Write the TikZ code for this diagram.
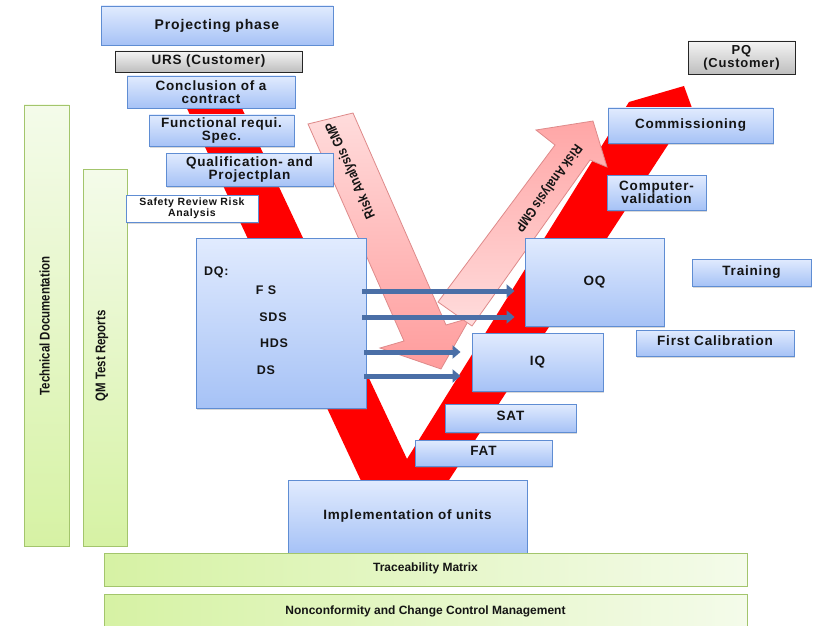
\documentclass[tikz,border=0pt]{standalone}
\usepackage{fontspec}
\setmainfont{Liberation Sans}
\newfontfamily\narrowfont{Liberation Sans}[FakeStretch=0.82]
\newfontfamily\boxfont{Liberation Sans}[LetterSpace=6]
\usetikzlibrary{shadows,arrows.meta,calc}
\definecolor{bluetop}{HTML}{E1EBFE}
\definecolor{bluebot}{HTML}{A6C2F6}
\definecolor{blueborder}{HTML}{5F8DD3}
\definecolor{graytop}{HTML}{F4F4F4}
\definecolor{graybot}{HTML}{BEBEBE}
\definecolor{greenborder}{HTML}{A3C56C}
\definecolor{greendark}{HTML}{D6F2A4}
\definecolor{greenlight}{HTML}{F4FBEA}
\definecolor{vred}{HTML}{FF0000}
\definecolor{pinkdark}{HTML}{FF9C9C}
\definecolor{pinklight}{HTML}{FFDCDC}
\definecolor{pinkborder}{HTML}{DE8A8A}
\definecolor{arrowblue}{HTML}{4A6FA7}
\definecolor{textdark}{HTML}{141414}
\begin{document}
\begin{tikzpicture}[x=1pt,y=-1pt,
 bluebox/.style={draw=blueborder,line width=0.9pt,top color=bluetop,bottom color=bluebot,
   inner sep=0pt,align=center,text=textdark,font=\boxfont\fontsize{13.5}{13.5}\selectfont\bfseries,
   drop shadow={shadow xshift=1.2pt,shadow yshift=-1.5pt,opacity=0.3}},
 graybox/.style={bluebox,draw=black!85,top color=graytop,bottom color=graybot},
 whitebox/.style={bluebox,top color=white,bottom color=white,font=\boxfont\fontsize{10.5}{10.5}\selectfont\bfseries},
 greenv/.style={draw=greenborder,line width=0.9pt,top color=greenlight,bottom color=greendark,inner sep=0pt},
 greenh/.style={draw=greenborder,line width=0.9pt,left color=greendark,right color=greenlight,
   inner sep=0pt,text=textdark,font=\fontsize{12}{12}\selectfont\bfseries},
 vtext/.style={font=\narrowfont\fontsize{14}{14}\selectfont\bfseries,rotate=90,text=textdark,inner sep=0pt},
 arrowtext/.style={font=\narrowfont\fontsize{14}{14}\selectfont\bfseries,text=textdark,inner sep=0pt},
 pinkarrow/.style={draw=pinkborder,line width=0.8pt},
 barrow/.style={draw=arrowblue,line width=5pt,-{Triangle[length=8pt,width=13pt]}},
 dqtext/.style={font=\boxfont\fontsize{12.5}{12.5}\selectfont\bfseries,text=textdark,inner sep=0pt}
]
\useasboundingbox (0,0) rectangle (823,626);

% red V
\fill[vred] (176,85) -- (231,85) -- (407,459) -- (629,102) -- (684,86) -- (692,108)
  -- (436,500) -- (370,500) -- cycle;

% pink arrows
\path[pinkarrow,top color=pinklight,bottom color=pinkdark]
  (308,124) -- (353,113) -- (446,325) -- (470,318) -- (441,369) -- (380,348) -- (404,341) -- cycle;
\path[pinkarrow,top color=pinkdark!90,bottom color=pinklight]
  (438,302) -- (555,145) -- (536,130) -- (593,121) -- (607,167) -- (590,160) -- (472,326) -- cycle;
\node[arrowtext,rotate=114] (rag1) at (351,170) {Risk Analysis GMP};
\node[arrowtext,rotate=-126] (rag2) at (548,188) {Risk Analysis GMP};

% left vertical bars
\node[greenv,minimum width=45pt,minimum height=441pt] (techdoc) at (46.5,325.5) {};
\node[vtext] (techdoct) at (44.5,326) {Technical Documentation};
\node[greenv,minimum width=44pt,minimum height=377pt] (qm) at (105,357.5) {};
\node[vtext] (qmt) at (102,356) {QM Test Reports};

% left column boxes
\node[bluebox,minimum width=232pt,minimum height=39pt,font=\boxfont\fontsize{14}{14}\selectfont\bfseries] (proj) at (217,25.5) {Projecting phase};
\node[graybox,minimum width=187pt,minimum height=21pt] (urs) at (208.5,61.5) {URS (Customer)};
\node[bluebox,minimum width=168pt,minimum height=32pt] (concl) at (211,92) {Conclusion of a\\contract};
\node[bluebox,minimum width=145pt,minimum height=31pt] (func) at (221.5,130.5) {Functional requi.\\Spec.};
\node[bluebox,minimum width=167pt,minimum height=33pt] (qual) at (249.5,169.5) {Qualification- and\\Projectplan};
\node[whitebox,minimum width=132pt,minimum height=27pt] (safety) at (192,208.5) {Safety Review Risk\\Analysis};

% DQ
\node[bluebox,minimum width=170pt,minimum height=170pt] (dq) at (281,323) {};
\node[dqtext,anchor=west] (dqt) at (204,272) {DQ:};
\node[dqtext] (fs) at (266,290) {F S};
\node[dqtext] (sds) at (273,317) {SDS};
\node[dqtext] (hds) at (274,343) {HDS};
\node[dqtext] (ds) at (266,370) {DS};

% right side boxes
\node[graybox,minimum width=107pt,minimum height=33pt,font=\boxfont\fontsize{13}{13}\selectfont\bfseries] (pq) at (741.5,57.5) {PQ\\(Customer)};
\node[bluebox,minimum width=165pt,minimum height=35pt] (comm) at (690.5,125.5) {\raisebox{2pt}{Commissioning}};
\node[bluebox,minimum width=99pt,minimum height=35pt] (compval) at (656.5,192.5) {Computer-\\validation};
\node[bluebox,minimum width=139pt,minimum height=88pt] (oq) at (594.5,282) {OQ};
\node[bluebox,minimum width=119pt,minimum height=27pt] (training) at (751.5,272.5) {\raisebox{3pt}{Training}};
\node[bluebox,minimum width=158pt,minimum height=26pt] (firstcal) at (715,343) {\raisebox{4pt}{First Calibration}};
\node[bluebox,minimum width=131pt,minimum height=58pt] (iq) at (537.5,362) {IQ};
\node[bluebox,minimum width=131pt,minimum height=28pt] (sat) at (510.5,418) {\raisebox{5pt}{SAT}};
\node[bluebox,minimum width=137pt,minimum height=26pt] (fat) at (483.5,453) {\raisebox{4pt}{FAT}};
\node[bluebox,minimum width=239pt,minimum height=73pt] (impl) at (407.5,516.5) {\raisebox{3pt}{Implementation of units}};

% bottom bars
\node[greenh,minimum width=643pt,minimum height=33pt] (trace) at (425.5,569.5) {\raisebox{4pt}{Traceability Matrix}};
\node[greenh,minimum width=643pt,minimum height=42pt] (noncon) at (425.5,615) {\raisebox{10pt}{Nonconformity and Change Control Management}};

% blue arrows DQ -> OQ / IQ
\coordinate (yfs) at (0,291);
\coordinate (ysds) at (0,317);
\coordinate (yhds) at (0,352);
\coordinate (yds) at (0,376);
\draw[barrow] ($(dq.east |- yfs)+(-4,0)$) -- ($(oq.west |- yfs)+(-10,0)$);
\draw[barrow] ($(dq.east |- ysds)+(-4,0)$) -- ($(oq.west |- ysds)+(-10,0)$);
\draw[barrow] ($(dq.east |- yhds)+(-2,0)$) -- ($(iq.west |- yhds)+(-11,0)$);
\draw[barrow] ($(dq.east |- yds)+(-2,0)$) -- ($(iq.west |- yds)+(-11,0)$);
\end{tikzpicture}
\end{document}
